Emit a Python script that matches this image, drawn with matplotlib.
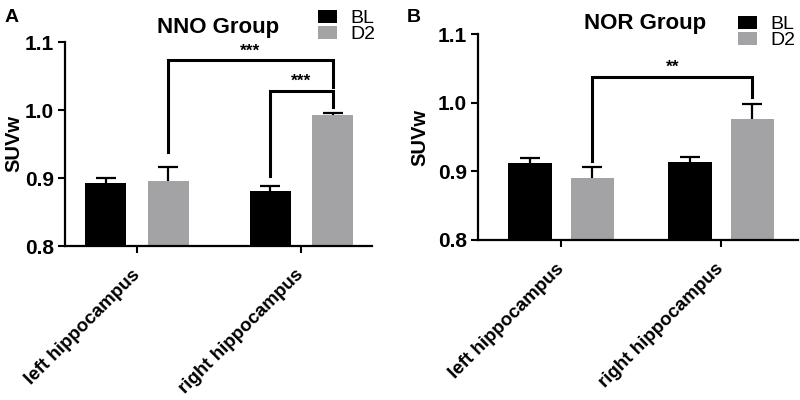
import numpy as np
import matplotlib
matplotlib.use("Agg")
import matplotlib.pyplot as plt

plt.rcParams['font.family'] = ['Liberation Sans', 'DejaVu Sans']

regions = ["left hippocampus", "right hippocampus"]
series = ["BL", "D2"]
colors = ["#000000", "#a3a3a6"]

# panel A - NNO group
nno_mean = {"BL": [0.893, 0.881], "D2": [0.895, 0.992]}
nno_err = {"BL": [0.007, 0.007], "D2": [0.021, 0.004]}
# panel B - NOR group
nor_mean = {"BL": [0.912, 0.914], "D2": [0.890, 0.976]}
nor_err = {"BL": [0.008, 0.007], "D2": [0.016, 0.022]}

# brackets: (x1, x2, bar height, left leg bottom, right leg bottom, stars)
nno_brackets = [
    ((0, "D2"), (1, "D2"), 1.073, 0.938, 1.034, "***"),
    ((1, "BL"), (1, "D2"), 1.028, 0.903, 1.005, "***"),
]
nor_brackets = [
    ((0, "D2"), (1, "D2"), 1.038, 0.916, 1.009, "**"),
]


def draw_panel(ax, means, errs, brackets, offset, width, xlim, ylabelpad):
    x = np.arange(len(regions))
    offs = {"BL": -offset, "D2": offset}
    handles = []
    for s, c in zip(series, colors):
        b = ax.bar(x + offs[s], means[s], width, color=c, label=s,
                   yerr=[np.zeros(len(regions)), errs[s]],
                   error_kw=dict(ecolor="black", elinewidth=1.6, capsize=7, capthick=1.6),
                   zorder=2)
        # only the upper whisker, hide the cap sitting on the bar top
        caps = b.errorbar.lines[1]
        caps[0].set_visible(False)
        handles.append(b)
    for (g1, s1), (g2, s2), top, lo1, lo2, stars in brackets:
        x1 = g1 + offs[s1]
        x2 = g2 + offs[s2]
        ax.plot([x1, x1, x2, x2], [lo1, top, top, lo2], color="black", lw=2.2,
                solid_joinstyle="miter", zorder=3, clip_on=False)
        ax.text((x1 + x2) / 2, top + 0.003, stars, ha="center", va="bottom",
                fontsize=12.5, fontweight="bold")
    ax.set_xlim(*xlim)
    ax.set_ylim(0.8, 1.1)
    ax.set_yticks([0.8, 0.9, 1.0, 1.1])
    ax.set_yticklabels(["0.8", "0.9", "1.0", "1.1"], fontsize=15, fontweight="bold")
    ax.set_xticks(x)
    ax.set_xticklabels(regions, rotation=45, ha="right", va="center",
                       rotation_mode="anchor", fontsize=13.5, fontweight="bold")
    ax.tick_params(axis="x", length=5, width=1.5, pad=14)
    ax.tick_params(axis="y", length=5, width=1.5, pad=3)
    for sp in ["top", "right"]:
        ax.spines[sp].set_visible(False)
    for sp in ["left", "bottom"]:
        ax.spines[sp].set_linewidth(1.6)
    ax.set_ylabel("SUVw", fontsize=14.5, fontweight="bold", labelpad=ylabelpad)
    return handles


fig = plt.figure(figsize=(8, 4), dpi=100)
axA = fig.add_axes([0.081, 0.385, 0.384, 0.51])
axB = fig.add_axes([0.5975, 0.40, 0.40, 0.514])

hA = draw_panel(axA, nno_mean, nno_err, nno_brackets, 0.19, 0.25, (-0.44, 1.43), 0.5)
hB = draw_panel(axB, nor_mean, nor_err, nor_brackets, 0.195, 0.27, (-0.52, 1.48), 6)

fig.text(0.006, 0.955, "A", fontsize=14, fontweight="bold", va="center")
fig.text(0.508, 0.955, "B", fontsize=14, fontweight="bold", va="center")
fig.text(0.272, 0.932, "NNO Group", fontsize=16, fontweight="bold", ha="center", va="center")
fig.text(0.806, 0.94, "NOR Group", fontsize=16, fontweight="bold", ha="center", va="center")

for ax, h, anchor in [(axA, hA, (0.38, 1.01)), (axB, hB, (0.905, 0.995))]:
    ax.legend(h, series, loc="upper left", bbox_to_anchor=anchor,
              bbox_transform=fig.transFigure, frameon=False, fontsize=14,
              handlelength=1.0, handleheight=0.65, labelspacing=-0.05,
              handletextpad=0.7, borderpad=0.2)

fig.savefig("out.png", dpi=100)
